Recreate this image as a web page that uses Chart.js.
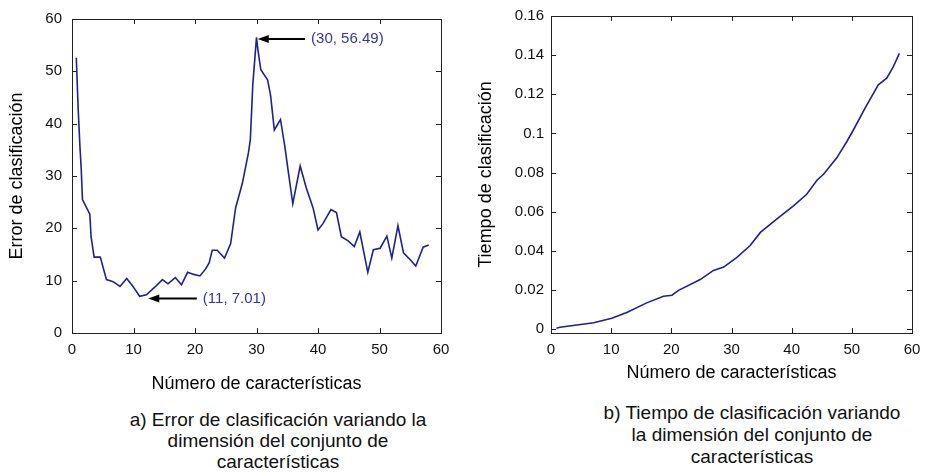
<!DOCTYPE html>
<html>
<head>
<meta charset="utf-8">
<script src="https://cdn.jsdelivr.net/npm/chart.js@4.4.1/dist/chart.umd.min.js"></script>
<style>
    body { margin: 0; background: #fff; width: 929px; height: 472px; overflow: hidden; position: relative; font-family: "Liberation Sans", Arial, sans-serif; }
    .panel { position: absolute; top: 0; height: 395px; }
    .caption { position: absolute; text-align: center; font-size: 19px; color: #111; }
</style>
</head>
<body>
<div class="panel" style="left:0;width:460px"><canvas id="errorChart"></canvas></div>
<div class="panel" style="left:460px;width:469px"><canvas id="timeChart"></canvas></div>
<div class="caption" style="left:98px;top:409px;width:360px;line-height:21px">a) Error de clasificación variando la<br>dimensión del conjunto de<br>características</div>
<div class="caption" style="left:572px;top:402px;width:360px;line-height:22px">b) Tiempo de clasificación variando<br>la dimensión del conjunto de<br>características</div>
<script>
// Error de clasificación vs número de características
const errorX = [0.7, 1.0, 1.3, 1.5, 1.7, 2.9, 3.1, 3.6, 4.6, 5.6, 6.7, 7.8, 8.9, 9.8, 11.0, 12.1, 13.5, 14.7, 15.6, 16.8,
    17.8, 18.8, 19.8, 20.8, 21.7, 22.3, 22.8, 23.6, 24.8, 25.8, 26.6, 27.7, 28.7, 29.0, 29.4, 30.0, 30.2, 30.7, 31.8, 32.3,
    32.9, 33.9, 34.6, 35.1, 35.9, 37.1, 38.1, 39.2, 40.0, 40.8, 42.1, 43.0, 43.8, 44.9, 45.9, 46.8, 48.1, 49.0, 50.1, 51.2,
    52.0, 53.0, 53.9, 55.0, 55.9, 57.1, 58.0];
const errorY = [52.6, 42.9, 35.4, 31.4, 25.5, 22.7, 18.4, 14.5, 14.5, 10.2, 9.8, 8.9, 10.4, 9.1, 7.01, 7.3, 8.8, 10.2, 9.4, 10.6,
    9.2, 11.6, 11.2, 10.9, 12.2, 13.4, 15.8, 15.8, 14.3, 17.1, 23.9, 28.6, 34.5, 37.0, 47.5, 56.49, 54.4, 50.3, 48.4, 45.3,
    38.8, 40.8, 35.7, 31.4, 24.7, 31.9, 27.7, 23.9, 19.7, 20.9, 23.6, 23.0, 18.4, 17.6, 16.5, 19.3, 11.6, 15.9, 16.2, 18.5,
    14.3, 20.5, 15.3, 14.0, 12.8, 16.4, 16.8];

// Tiempo de clasificación vs número de características
const timeX = [0.9, 1.5, 7.1, 10.1, 12.6, 15.9, 18.7, 20.1, 21.2, 24.8, 27.0, 28.7, 30.9, 33.1, 34.8, 37.5, 40.3, 42.5,
    44.2, 45.3, 47.5, 49.2, 50.3, 52.2, 54.4, 55.8, 56.9, 57.9];
const timeY = [0.0004, 0.0009, 0.0032, 0.0055, 0.0085, 0.0134, 0.0168, 0.0173, 0.0198, 0.0253, 0.0300, 0.0317, 0.0367,
    0.0427, 0.0494, 0.0562, 0.0630, 0.0689, 0.0761, 0.0791, 0.0875, 0.0960, 0.1020, 0.1129, 0.1248, 0.1282, 0.1341, 0.1409];

// Tick labels
const xTicks = [0, 10, 20, 30, 40, 50, 60];
const errorTicks = [0, 10, 20, 30, 40, 50, 60];
const timeTicks = [0, 0.02, 0.04, 0.06, 0.08, 0.1, 0.12, 0.14, 0.16];

// Labelled points on the error curve
const notes = [
    { text: '(30, 56.49)', tip: [30.2, 56.2], tail: [37.9, 56.2] },
    { text: '(11, 7.01)', tip: [12.4, 6.6], tail: [20.3, 6.6] }
];

const lineColor = '#20208f';
const tickFont = { family: 'Liberation Sans', size: 15 };
const titleFont = { family: 'Liberation Sans', size: 18 };

// MATLAB-like box with inward ticks on all four sides
const boxTicks = {
    id: 'boxTicks',
    afterDatasetsDraw(chart) {
        const { ctx, chartArea: a, scales: { x, y } } = chart;
        ctx.save();
        ctx.strokeStyle = '#222';
        ctx.lineWidth = 1;
        ctx.strokeRect(Math.round(a.left) + 0.5, Math.round(a.top) + 0.5, Math.round(a.width), Math.round(a.height));
        ctx.beginPath();
        x.ticks.forEach(t => {
            const px = Math.round(x.getPixelForValue(t.value)) + 0.5;
            ctx.moveTo(px, a.bottom); ctx.lineTo(px, a.bottom - 5);
            ctx.moveTo(px, a.top); ctx.lineTo(px, a.top + 5);
        });
        y.ticks.forEach(t => {
            const py = Math.round(y.getPixelForValue(t.value)) + 0.5;
            ctx.moveTo(a.left, py); ctx.lineTo(a.left + 5, py);
            ctx.moveTo(a.right, py); ctx.lineTo(a.right - 5, py);
        });
        ctx.stroke();
        ctx.restore();
    }
};

// arrows with the coordinates of the max / min
const arrowNotes = {
    id: 'arrowNotes',
    afterDatasetsDraw(chart) {
        const { ctx, scales: { x, y } } = chart;
        ctx.save();
        notes.forEach(n => {
            const tx = x.getPixelForValue(n.tip[0]), ty = y.getPixelForValue(n.tip[1]);
            const ex = x.getPixelForValue(n.tail[0]), ey = y.getPixelForValue(n.tail[1]);
            ctx.strokeStyle = '#000';
            ctx.fillStyle = '#000';
            ctx.lineWidth = 2;
            ctx.beginPath();
            ctx.moveTo(ex, ey); ctx.lineTo(tx + 8, ty);
            ctx.stroke();
            ctx.beginPath();
            ctx.moveTo(tx, ty); ctx.lineTo(tx + 11, ty - 4); ctx.lineTo(tx + 11, ty + 4);
            ctx.closePath();
            ctx.fill();
            ctx.fillStyle = '#3434a8';
            ctx.font = '15px "Liberation Sans"';
            ctx.textBaseline = 'middle';
            ctx.fillText(n.text, ex + 6, ey);
        });
        ctx.restore();
    }
};

function makeChart(id, xs, ys, yOpts, yTitle, plugins, pad, yWidth, xTitlePad, yTitlePad) {
    return new Chart(document.getElementById(id), {
        type: 'line',
        data: {
            datasets: [{
                data: xs.map((v, i) => ({ x: v, y: ys[i] })),
                borderColor: lineColor,
                borderWidth: 1.6,
                pointRadius: 0,
                fill: false,
                tension: 0
            }]
        },
        options: {
            responsive: true,
            maintainAspectRatio: false,
            animation: false,
            layout: { padding: pad },
            plugins: { legend: { display: false }, tooltip: { enabled: false } },
            scales: {
                x: {
                    type: 'linear', min: 0, max: 60,
                    afterBuildTicks: s => { s.ticks = xTicks.map(v => ({ value: v })); },
                    afterFit: s => { s.height = 62; },
                    grid: { display: false, drawTicks: false },
                    border: { display: false },
                    ticks: { font: tickFont, color: '#111', padding: 8, maxRotation: 0 },
                    title: { display: true, text: 'Número de características', font: titleFont, color: '#000', padding: { top: 6, bottom: xTitlePad } }
                },
                y: Object.assign({
                    type: 'linear',
                    afterFit: s => { s.width = yWidth; },
                    grid: { display: false, drawTicks: false },
                    border: { display: false },
                    title: { display: true, text: yTitle, font: titleFont, color: '#000', padding: { top: yTitlePad, bottom: 0 } }
                }, yOpts)
            }
        },
        plugins: plugins
    });
}

makeChart('errorChart', errorX, errorY, {
    min: 0, max: 60,
    afterBuildTicks: s => { s.ticks = errorTicks.map(v => ({ value: v })); },
    ticks: { font: tickFont, color: '#111', padding: 10 }
}, 'Error de clasificación', [boxTicks, arrowNotes], { top: 13, right: 19, left: 0, bottom: 0 }, 72, 0, 6);

makeChart('timeChart', timeX, timeY, {
    min: -0.002, max: 0.16,
    afterBuildTicks: s => { s.ticks = timeTicks.map(v => ({ value: v })); },
    ticks: { font: tickFont, color: '#111', padding: 7, callback: v => String(v) }
}, 'Tiempo de clasificación', [boxTicks], { top: 14, right: 17, left: 0, bottom: 0 }, 91, 11, 15);
</script>
</body>
</html>
